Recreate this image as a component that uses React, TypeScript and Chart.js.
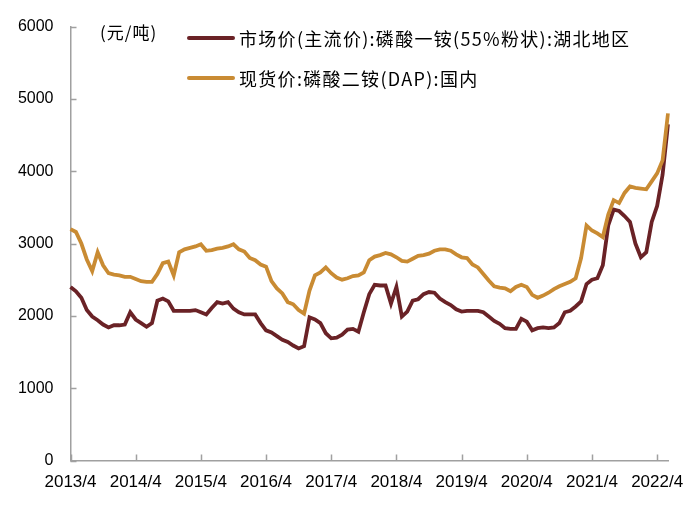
import { useEffect, useRef } from 'react';
import { Chart, registerables } from 'chart.js';

Chart.register(...registerables);

// monthly, 2013/4 .. 2022/6
const startYear = 2013;
const startMonth = 4;
const monthCount = 111;

const mapLabel = '市场价(主流价):磷酸一铵(55%粉状):湖北地区';
const dapLabel = '现货价:磷酸二铵(DAP):国内';
const unitLabel = '(元/吨)';

const yTicks = [0, 1000, 2000, 3000, 4000, 5000, 6000];

// 市场价 磷酸一铵 湖北
const mapPrices = [
  2400, 2340, 2250, 2080, 1990, 1940, 1880, 1840, 1870, 1870, 1880, 2050,
  1950, 1900, 1850, 1900, 2210, 2240, 2200, 2070, 2070, 2070, 2070, 2080,
  2050, 2020, 2110, 2190, 2170, 2190, 2100, 2050, 2020, 2020, 2020, 1900,
  1800, 1770, 1720, 1670, 1640, 1590, 1550, 1580, 1980, 1950, 1900, 1760,
  1690, 1700, 1740, 1810, 1820, 1780, 2050, 2300, 2430, 2420, 2420, 2170,
  2400, 1990, 2060, 2210, 2230, 2300, 2330, 2320, 2240, 2190, 2150, 2090,
  2060, 2070, 2070, 2070, 2050, 1990, 1930, 1890, 1830, 1820, 1820, 1960,
  1920, 1800, 1830, 1840, 1830, 1840, 1900, 2050, 2070, 2130, 2200, 2440,
  2500, 2520, 2700, 3250, 3470, 3450, 3380, 3300, 3000, 2810, 2880, 3300,
  3520, 3950, 4650,
];

// 现货价 磷酸二铵 国内
const dapPrices = [
  3200, 3160, 3000, 2780, 2620, 2880, 2700, 2590, 2570, 2560, 2540, 2540,
  2510, 2480, 2470, 2470, 2580, 2730, 2750, 2560, 2880, 2920, 2940, 2960,
  2990, 2900, 2910, 2930, 2940, 2960, 2990, 2920, 2890, 2800, 2770, 2710,
  2680, 2480, 2380, 2310, 2190, 2160, 2080, 2030, 2350, 2560, 2600, 2670,
  2590, 2530, 2500, 2520, 2550, 2560, 2600, 2770, 2820, 2840, 2870, 2850,
  2810, 2760, 2750, 2790, 2830, 2840, 2860, 2900, 2920, 2920, 2900, 2850,
  2810, 2800, 2710, 2670, 2580, 2490, 2410, 2390, 2380, 2340, 2400, 2430,
  2400, 2290, 2250, 2280, 2320, 2370, 2410, 2440, 2470, 2520, 2800, 3250,
  3180, 3140, 3090, 3400, 3600, 3560, 3700, 3790, 3770, 3760, 3750, 3860,
  3970, 4150, 4800,
];

const monthLabels = Array.from({ length: monthCount }, (_, i) => {
  const total = startMonth - 1 + i;
  return `${startYear + Math.floor(total / 12)}/${(total % 12) + 1}`;
});

const MAP_COLOR = '#6a2226';
const DAP_COLOR = '#c98b33';
const AXIS_COLOR = '#a0a0a0';

// short tick marks pointing into the plot
const innerTicks = {
  id: 'innerTicks',
  afterDraw(chart: any) {
    const { ctx, chartArea, scales } = chart;
    ctx.save();
    ctx.strokeStyle = AXIS_COLOR;
    ctx.lineWidth = 1.5;
    ctx.beginPath();
    yTicks.forEach(v => {
      const y = Math.round(scales.y.getPixelForValue(v)) + 0.5;
      ctx.moveTo(chartArea.left, y);
      ctx.lineTo(chartArea.left + 6, y);
    });
    monthLabels.forEach((_, i) => {
      if (i % 12 !== 0) return;
      const x = Math.round(scales.x.getPixelForValue(i)) + 0.5;
      ctx.moveTo(x, chartArea.bottom);
      ctx.lineTo(x, chartArea.bottom - 6);
    });
    ctx.stroke();
    ctx.restore();
  },
};

function PriceChart() {
  const canvasRef = useRef<HTMLCanvasElement | null>(null);
  const chartInstance = useRef<Chart | null>(null);

  useEffect(() => {
    if (!canvasRef.current) return;

    chartInstance.current = new Chart(canvasRef.current, {
      type: 'line',
      data: {
        labels: monthLabels,
        datasets: [
          {
            label: mapLabel,
            data: mapPrices,
            borderColor: MAP_COLOR,
            borderWidth: 3.8,
            pointRadius: 0,
            tension: 0,
            order: 1,
          },
          {
            label: dapLabel,
            data: dapPrices,
            borderColor: DAP_COLOR,
            borderWidth: 3.8,
            pointRadius: 0,
            tension: 0,
            order: 0,
          },
        ],
      },
      options: {
        responsive: true,
        maintainAspectRatio: false,
        animation: false,
        layout: { padding: { left: 0, right: 32, top: 20, bottom: 0 } },
        plugins: {
          legend: { display: false },
          tooltip: { enabled: false },
        },
        scales: {
          x: {
            grid: { display: false, drawTicks: false },
            border: { display: true, color: AXIS_COLOR, width: 1.5 },
            afterFit: (scale: any) => { scale.height = 48.5; },
            ticks: {
              autoSkip: false,
              maxRotation: 0,
              padding: 12,
              color: '#000',
              font: { family: 'Liberation Sans', size: 17 },
              callback: (_v: any, i: number) => (i % 12 === 0 ? `${startYear + i / 12}/4` : ''),
            },
          },
          y: {
            min: 0,
            max: 6000,
            grid: { display: false, drawTicks: false },
            border: { display: true, color: AXIS_COLOR, width: 1.5 },
            afterFit: (scale: any) => { scale.width = 70.5; },
            ticks: {
              stepSize: 1000,
              padding: 17,
              color: '#000',
              font: { family: 'Liberation Sans', size: 16 },
              callback: (v: any) => String(v),
            },
          },
        },
      },
      plugins: [innerTicks],
    });

    return () => {
      if (chartInstance.current) {
        chartInstance.current.destroy();
        chartInstance.current = null;
      }
    };
  }, []);

  return <canvas ref={canvasRef} />;
}

const legendText = {
  position: 'absolute' as const,
  left: 239,
  fontFamily: '"Noto Sans CJK SC"',
  fontSize: 18,
  letterSpacing: '1.3px',
  color: '#000',
  lineHeight: '20px',
  whiteSpace: 'nowrap' as const,
};

export default function App() {
  useEffect(() => {
    document.body.style.margin = '0';
  }, []);

  return (
    <div style={{ position: 'relative', width: 700, height: 509, background: '#fff' }}>
      <PriceChart />
      <div style={{ ...legendText, left: 100, top: 22, fontSize: 17, letterSpacing: '1px' }}>{unitLabel}</div>
      <div style={{ position: 'absolute', left: 187, top: 36, width: 48, height: 4, background: MAP_COLOR, borderRadius: 2 }} />
      <div style={{ ...legendText, top: 28 }}>{mapLabel}</div>
      <div style={{ position: 'absolute', left: 187, top: 76, width: 48, height: 4, background: DAP_COLOR, borderRadius: 2 }} />
      <div style={{ ...legendText, top: 68 }}>{dapLabel}</div>
    </div>
  );
}
